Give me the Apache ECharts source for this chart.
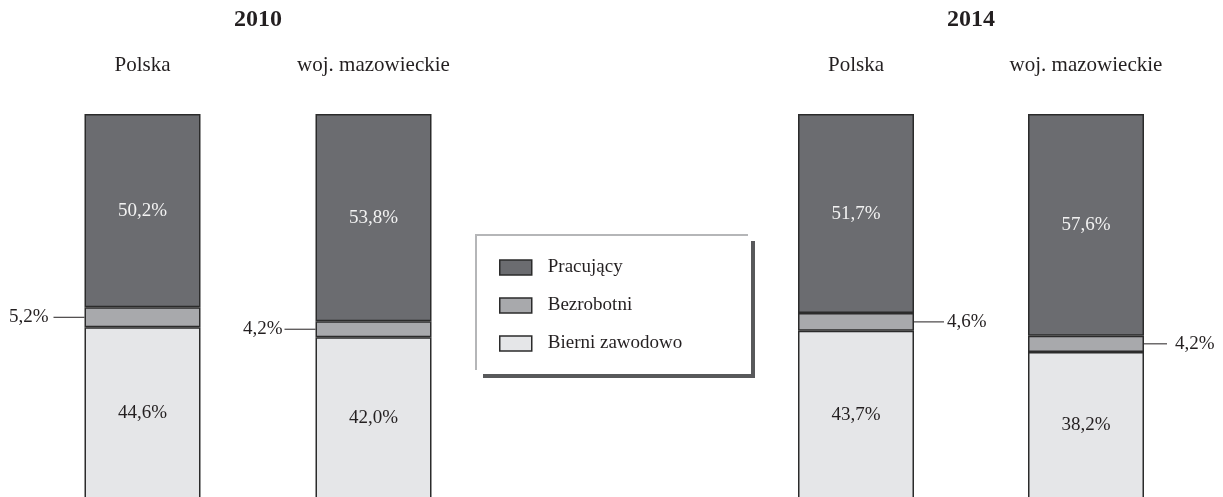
<!DOCTYPE html>
<html>
<head>
<meta charset="utf-8">
<script src="https://cdn.jsdelivr.net/npm/echarts@6/dist/echarts.min.js"></script>
<style>
html,body{margin:0;padding:0;background:#fff;}
#chart{width:1223px;height:497px;}
</style>
</head>
<body>
<div id="chart"></div>
<script>
var years = ['2010', '2014'];
var categories = ['Polska', 'woj. mazowieckie'];
var seriesNames = ['Pracujący', 'Bezrobotni', 'Bierni zawodowo'];
var pracujacy2010 = [50.2, 53.8];
var bezrobotni2010 = [5.2, 4.2];
var bierni2010 = [44.6, 42.0];
var pracujacy2014 = [51.7, 57.6];
var bezrobotni2014 = [4.6, 4.2];
var bierni2014 = [43.7, 38.2];

var FONT = "'Liberation Serif', 'Times New Roman', serif";
var INK = '#231f20';
var BORDER = '#2b2b2b';
var COLORS = { 'Pracujący': '#6b6c70', 'Bezrobotni': '#a8a9ac', 'Bierni zawodowo': '#e5e6e8' };

function fmt(v) { return v.toFixed(1).replace('.', ',') + '%'; }

var chart = echarts.init(document.getElementById('chart'), null, { renderer: 'canvas' });

function grids() {
  return [
    { left: 27, width: 462, top: 114, height: 385, containLabel: false, outerBoundsMode: 'none' },
    { left: 741, width: 460, top: 114, height: 385, containLabel: false, outerBoundsMode: 'none' }
  ];
}

function xAxes() {
  return [0, 1].map(function (i) {
    return {
      type: 'category', gridIndex: i, position: 'top', data: categories,
      axisLine: { show: false }, axisTick: { show: false }, splitLine: { show: false },
      axisLabel: { margin: 38, fontFamily: FONT, fontSize: 21, color: INK }
    };
  });
}

function yAxes() {
  return [0, 1].map(function (i) {
    return { type: 'value', gridIndex: i, min: 0, max: 100, show: false };
  });
}

function makeSeries(gi, prac, bez, bier) {
  var base = {
    type: 'bar', stack: 'total' + gi, xAxisIndex: gi, yAxisIndex: gi, barWidth: 116,
    emphasis: { disabled: true }
  };
  var leftSide = gi === 0;
  var lineLens = leftSide ? [31, 31] : [30, 23];
  var gaps = leftSide ? [5, 2] : [3, 8];
  return [
    Object.assign({}, base, {
      name: 'Bierni zawodowo', data: bier,
      itemStyle: { color: COLORS['Bierni zawodowo'], borderColor: BORDER, borderWidth: 1.5 },
      label: { show: true, position: 'inside', formatter: function (p) { return fmt(p.value); },
        fontFamily: FONT, fontSize: 19, color: INK }
    }),
    Object.assign({}, base, {
      name: 'Bezrobotni', data: bez,
      itemStyle: { color: COLORS['Bezrobotni'], borderColor: BORDER, borderWidth: 1.5 },
      label: {
        show: true, position: leftSide ? 'left' : 'right', distance: 0,
        formatter: function (p) {
          var i = p.dataIndex;
          var key = 'l' + i, g = 'g' + i;
          return leftSide ? '{v|' + fmt(p.value) + '}{' + g + '|}{' + key + '|}'
                          : '{' + key + '|}{' + g + '|}{v|' + fmt(p.value) + '}';
        },
        rich: {
          v: { fontFamily: FONT, fontSize: 19, color: INK },
          l0: { width: lineLens[0], height: 1, backgroundColor: INK },
          l1: { width: lineLens[1], height: 1, backgroundColor: INK },
          g0: { width: gaps[0], height: 1 },
          g1: { width: gaps[1], height: 1 }
        }
      }
    }),
    Object.assign({}, base, {
      name: 'Pracujący', data: prac,
      itemStyle: { color: COLORS['Pracujący'], borderColor: BORDER, borderWidth: 1.5 },
      label: { show: true, position: 'inside', formatter: function (p) { return fmt(p.value); },
        fontFamily: FONT, fontSize: 19, color: '#f2f2f2' }
    })
  ];
}

var series = [].concat(
  makeSeries(0, pracujacy2010, bezrobotni2010, bierni2010),
  makeSeries(1, pracujacy2014, bezrobotni2014, bierni2014)
);

var option = {
  backgroundColor: '#ffffff',
  animation: false,
  grid: grids(),
  xAxis: xAxes(),
  yAxis: yAxes(),
  legend: {
    orient: 'vertical', left: 499, top: 258, padding: 0,
    data: seriesNames, itemWidth: 32, itemHeight: 15, itemGap: 19,
    icon: 'rect',
    itemStyle: { borderColor: BORDER, borderWidth: 1.5 },
    textStyle: { fontFamily: FONT, fontSize: 19, color: INK, padding: [0, 0, 0, 11] },
    selectedMode: false
  },
  graphic: [
    { type: 'rect', shape: { x: 475, y: 234, width: 273, height: 2 }, style: { fill: '#b5b6b8' }, silent: true },
    { type: 'rect', shape: { x: 475, y: 234, width: 2, height: 136 }, style: { fill: '#b5b6b8' }, silent: true },
    { type: 'rect', shape: { x: 751, y: 241, width: 4, height: 137 }, style: { fill: '#58595b' }, silent: true },
    { type: 'rect', shape: { x: 483, y: 374, width: 272, height: 4 }, style: { fill: '#58595b' }, silent: true },
    { type: 'text', x: 258, y: 20, style: { text: years[0], fontFamily: FONT, fontSize: 24, fontWeight: 'bold', fill: INK, align: 'center', verticalAlign: 'middle' } },
    { type: 'text', x: 971, y: 20, style: { text: years[1], fontFamily: FONT, fontSize: 24, fontWeight: 'bold', fill: INK, align: 'center', verticalAlign: 'middle' } }
  ],
  series: series
};
chart.setOption(option);
</script>
</body>
</html>
